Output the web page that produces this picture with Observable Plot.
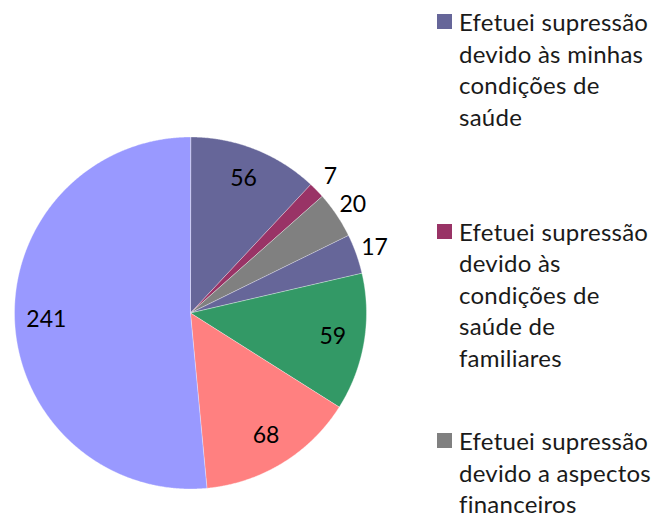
<!DOCTYPE html>
<html>
<head>
<meta charset="utf-8">
<script src="https://cdn.jsdelivr.net/npm/d3@7"></script>
<script src="https://cdn.jsdelivr.net/npm/@observablehq/plot@0.6"></script>
<style>
  html, body { margin: 0; padding: 0; background: #fff; }
  #wrap { position: relative; width: 658px; height: 514px; overflow: hidden; }
  #wrap svg { position: absolute; left: 0; top: 0; }
  .entry { position: absolute; left: 437px; font-family: Lato, sans-serif; font-size: 24px; letter-spacing: 0.25px; line-height: 31.5px; color: #1a1a1a; white-space: pre; }
  .sw { position: absolute; left: 0; width: 15px; height: 15px; }
  .tx { position: absolute; left: 22px; top: 0; }
</style>
</head>
<body>
<div id="wrap"></div>
<script>
// Slice values, clockwise from 12 o'clock
const sliceKeys = ["s1", "s2", "s3", "s4", "s5", "s6", "s7"];
const sliceValues = [56, 7, 20, 17, 59, 68, 241];
const sliceColors = ["#666699", "#993366", "#808080", "#666699", "#339966", "#FF8080", "#9999FF"];
// Visible legend entries (the rest is cut off in the reference)
const legendLabels = [
  "Efetuei supressão\ndevido às minhas\ncondições de\nsaúde",
  "Efetuei supressão\ndevido às\ncondições de\nsaúde de\nfamiliares",
  "Efetuei supressão\ndevido a aspectos\nfinanceiros"
];
const legendColors = ["#666699", "#993366", "#808080"];

const data = sliceKeys.map((k, i) => ({key: k, value: sliceValues[i], color: sliceColors[i]}));
const total = d3.sum(sliceValues);
const arcs = d3.pie().sort(null).value(d => d.value)(data);

// Polygon points for each slice (unit circle, y up, angle clockwise from top)
const pts = [];
for (const a of arcs) {
  pts.push({key: a.data.key, x: 0, y: 0});
  const n = Math.max(2, Math.ceil((a.endAngle - a.startAngle) / 0.005));
  for (let j = 0; j <= n; j++) {
    const t = a.startAngle + (a.endAngle - a.startAngle) * j / n;
    pts.push({key: a.data.key, x: Math.sin(t), y: Math.cos(t)});
  }
}
const labels = arcs.map(a => {
  const m = (a.startAngle + a.endAngle) / 2;
  const r = a.data.value / total < 0.05 ? 1.11 : 0.82;
  return {x: r * Math.sin(m), y: r * Math.cos(m), text: String(a.data.value)};
});

const R = 176, cx = 190, cy = 312.5;
const chart = Plot.plot({
  width: 658, height: 514,
  marginTop: 0, marginBottom: 0, marginLeft: 0, marginRight: 0,
  x: {domain: [-1, 1], range: [cx - R, cx + R], axis: null},
  y: {domain: [-1, 1], range: [cy + R, cy - R], axis: null},
  color: {domain: sliceKeys, range: sliceColors},
  style: {background: "transparent", overflow: "visible"},
  marks: [
    Plot.line(pts, {x: "x", y: "y", z: "key", fill: "key", stroke: "#ffffff", strokeWidth: 0.6, strokeOpacity: 0.6, curve: "linear-closed"}),
    Plot.text(labels, {x: "x", y: "y", text: "text", fontSize: 23, fontFamily: "Lato, sans-serif", fill: "#000", textAnchor: "middle", lineAnchor: "middle"})
  ]
});
const wrap = document.getElementById("wrap");
wrap.appendChild(chart);

legendLabels.forEach((lab, i) => {
  const e = document.createElement("div");
  e.className = "entry";
  e.style.top = (14 + i * 209.5) + "px";
  const sw = document.createElement("div");
  sw.className = "sw";
  sw.style.background = legendColors[i];
  sw.style.top = "0px";
  const tx = document.createElement("div");
  tx.className = "tx";
  tx.textContent = lab;
  tx.style.top = "-7.8px";
  e.appendChild(sw);
  e.appendChild(tx);
  wrap.appendChild(e);
});
</script>
</body>
</html>
